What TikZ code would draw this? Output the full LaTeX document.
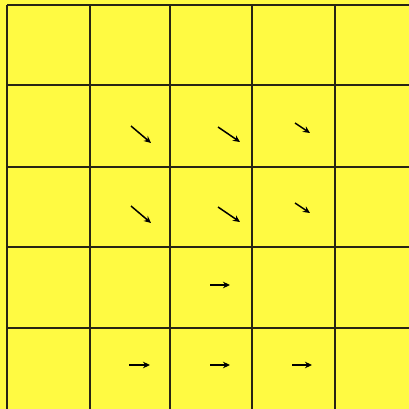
\documentclass[tikz,border=0pt]{standalone}
\usetikzlibrary{arrows.meta}
\definecolor{bgyellow}{RGB}{255,250,66}
\definecolor{gridline}{RGB}{40,36,20}
\begin{document}
\begin{tikzpicture}[x=1pt,y=-1pt,
  gridstyle/.style={draw=gridline,line width=1.2pt},
  vec/.style={draw=black,line width=1.5pt,-{Stealth[length=7pt,width=6.5pt]}}]
\useasboundingbox (0,0) rectangle (409,409);
\fill[bgyellow] (0,0) rectangle (409,409);
% grid
\foreach \x in {7,90,170,252,335} \draw[gridstyle] (\x,5) -- (\x,409);
\foreach \y in {5,85,167,247,328} \draw[gridstyle] (7,\y) -- (409,\y);
% arrows
\draw[vec] (131,126) -- (151,143);
\draw[vec] (218,127) -- (240,142);
\draw[vec] (295,123) -- (310,133);
\draw[vec] (131,206) -- (151,223);
\draw[vec] (218,207) -- (240,222);
\draw[vec] (295,203) -- (310,213);
\draw[vec] (210,285) -- (230,285);
\draw[vec] (129,365) -- (150,365);
\draw[vec] (210,365) -- (230,365);
\draw[vec] (292,365) -- (312,365);
\end{tikzpicture}
\end{document}
